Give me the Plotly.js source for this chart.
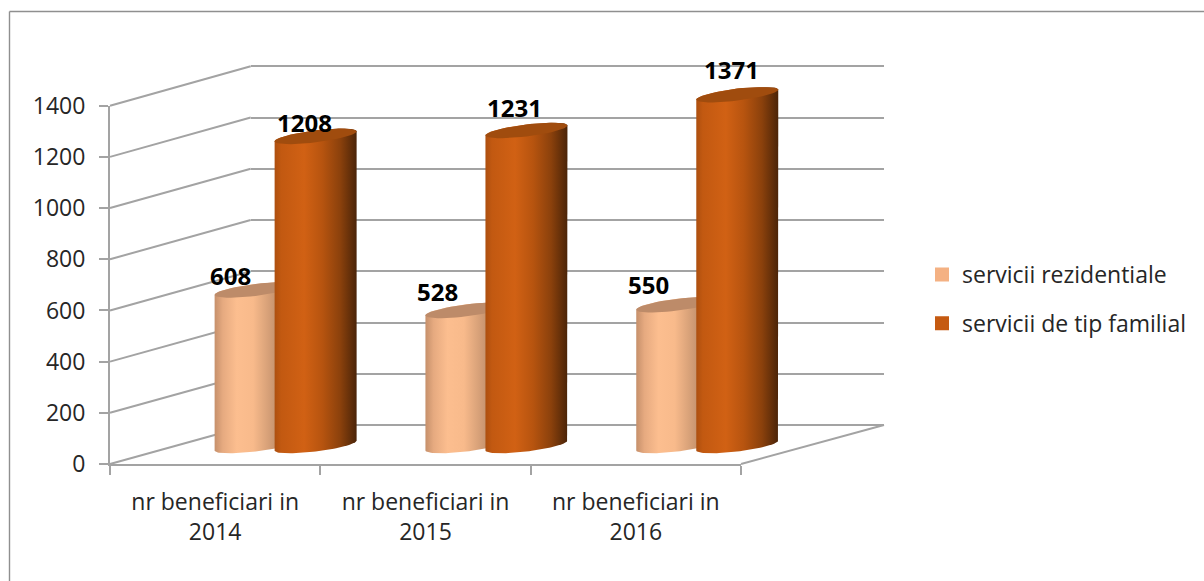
<!DOCTYPE html>
<html><head><meta charset="utf-8">
<script src="https://cdn.plot.ly/plotly-3.0.1.min.js"></script>
<style>html,body{margin:0;padding:0;background:#fff}#chart{width:1204px;height:581px}</style>
</head><body><div id="chart"></div>
<script>
const categories = ['nr beneficiari in<br>2014','nr beneficiari in<br>2015','nr beneficiari in<br>2016'];
const serviciiRezidentiale = [608,528,550];
const serviciiFamilial = [1208,1231,1371];
const seriesNames = ['servicii rezidentiale','servicii de tip familial'];
const valueTicks = [0,200,400,600,800,1000,1200,1400];

const W=1204,H=581;
const hx=p=>p/W, hy=p=>(H-p)/H;
const FONT='"Open Sans", sans-serif', TXT='#262626', GRID='#a3a3a3';
// pixel frame of the three planes
const front={x0:110,x1:741,y0:464,y1:105.7};
const back={x0:250.7,x1:884,y0:425,y1:66.3};
const body={x0:180.2,x1:812.7,y0:445.5,y1:87.2};
const unitX=(body.x1-body.x0)/3, unitY=(body.y0-body.y1)/1400;
const backUnitY=(back.y0-back.y1)/1400;
const radius=41/unitX, slant=5/unitY, minor=6/unitY, shift=30/unitX;
const floorRoom=100; // value units kept under the cylinders so the lower rim is not clipped
const wallRoom=20;   // value units past both ends of the back wall so its end gridlines are drawn

const orangeStops=[[0,'#ad4f0f'],[0.08,'#c25911'],[0.36,'#d16114'],[0.58,'#b7540f'],[0.8,'#8b410c'],[1,'#4b2408']];
const peachStops=[[0,'#c6906b'],[0.1,'#e6aa80'],[0.27,'#fcbe8f'],[0.47,'#f8ba8b'],[0.74,'#c7946f'],[1,'#9c7356']];

function rim(cx,cy,from,to){
  const xs=[],ys=[];
  for(let k=0;k<=48;k++){
    const t=from+(to-from)*k/48;
    xs.push(cx+radius*Math.cos(t)); ys.push(cy+slant*Math.cos(t)+minor*Math.sin(t));
  }
  return [xs,ys];
}
function cylinderTraces(values,dir,stops,capColor){
  const out=[];
  const capX=[],capY=[];
  values.forEach((v,i)=>{
    const cx=i+dir*shift;
    const top=rim(cx,v,Math.PI,0);
    const bottom=rim(cx,0,0,-Math.PI);
    out.push({type:'scatter',mode:'lines',xaxis:'x3',yaxis:'y3',showlegend:false,hoverinfo:'skip',
      x:top[0].concat(bottom[0]),y:top[1].concat(bottom[1]),fill:'toself',line:{width:0},
      fillgradient:{type:'horizontal',colorscale:stops,start:cx-radius,stop:cx+radius}});
    const cap=rim(cx,v,0,2*Math.PI);
    capX.push(...cap[0],null);capY.push(...cap[1],null);
  });
  out.push({type:'scatter',mode:'lines',xaxis:'x3',yaxis:'y3',showlegend:false,hoverinfo:'skip',
    x:capX,y:capY,fill:'toself',fillcolor:capColor,line:{width:0}});
  return out;
}
const idx=categories.map((_,i)=>i);
const traces=[
 {type:'scatter',mode:'none',x:categories,y:categories.map(()=>0),xaxis:'x',yaxis:'y',showlegend:false,hoverinfo:'skip'},
 {type:'scatter',mode:'none',x:valueTicks.map(()=>0.5),y:valueTicks,xaxis:'x2',yaxis:'y2',showlegend:false,hoverinfo:'skip'},
 {type:'bar',name:seriesNames[0],x:idx,y:serviciiRezidentiale,xaxis:'x3',yaxis:'y3',legendgroup:'a',marker:{color:'#F4B183',line:{color:'#F4B183',width:2}}},
 {type:'bar',name:seriesNames[1],x:idx,y:serviciiFamilial,xaxis:'x3',yaxis:'y3',legendgroup:'b',marker:{color:'#C55A11',line:{color:'#C55A11',width:2}}},
 ...cylinderTraces(serviciiRezidentiale,-1,peachStops,'#bd8b69'),
 ...cylinderTraces(serviciiFamilial,1,orangeStops,'#a04c0e')
];
const frontY=v=>front.y0+(front.y1-front.y0)*v/1400;
const backY=v=>back.y0+(back.y1-back.y0)*v/1400;
const line=(x0,y0,x1,y1,color,width)=>({type:'line',xref:'paper',yref:'paper',layer:'below',
  x0:hx(x0),x1:hx(x1),y0:hy(y0),y1:hy(y1),line:{color:color||GRID,width:width||2}});
const shapes=valueTicks.map(v=>line(front.x0,frontY(v),back.x0,backY(v)));
shapes.push(line(front.x1,front.y0,back.x1,back.y0));
shapes.push(line(9.5,11.5,1204,11.5,'#8f8f8f',1.4));
shapes.push(line(9.5,11.5,9.5,581,'#8f8f8f',1.4));

const labelShift0=[[-25,14],[-29,19],[-29,20]];
const labelShift1=[[-11.5,14],[-11.5,23],[-6,25]];
const annotations=[];
[[serviciiRezidentiale,-1,labelShift0],[serviciiFamilial,1,labelShift1]].forEach(([vals,dir,sh])=>{
  vals.forEach((v,i)=>annotations.push({xref:'x3',yref:'y3',x:i+dir*shift,y:v,text:'<b>'+v+'</b>',showarrow:false,
    xshift:sh[i][0],yshift:sh[i][1],font:{family:FONT,size:24,color:'#000'},xanchor:'center',yanchor:'middle'}));
});
const layout={
 width:W,height:H,margin:{l:0,r:0,t:0,b:0,pad:0},paper_bgcolor:'#fff',plot_bgcolor:'rgba(0,0,0,0)',
 font:{family:FONT,size:23,color:TXT},
 barmode:'group',bargap:0.431,bargroupgap:0.33,
 xaxis:{type:'category',categoryorder:'array',categoryarray:categories,range:[-0.5,2.5],tickson:'boundaries',
   domain:[hx(front.x0),hx(front.x1)],anchor:'y',showgrid:false,zeroline:false,showline:true,linecolor:GRID,linewidth:2,
   ticks:'outside',ticklen:9,tickwidth:1.6,tickcolor:GRID,tickfont:{family:FONT,size:23,color:TXT},ticklabelstandoff:16,fixedrange:true},
 yaxis:{range:[0,1400],tickvals:valueTicks,domain:[hy(front.y0),hy(front.y1)],anchor:'x',showgrid:false,zeroline:false,showline:true,linecolor:GRID,linewidth:2,
   ticks:'outside',ticklen:9,tickwidth:1.6,tickcolor:GRID,tickfont:{family:FONT,size:23,color:TXT},ticklabelstandoff:9,fixedrange:true},
 xaxis2:{range:[0,1],domain:[hx(back.x0),hx(back.x1)],anchor:'y2',showgrid:false,showticklabels:false,ticks:'',zeroline:false,showline:false,fixedrange:true},
 yaxis2:{range:[-wallRoom,1400+wallRoom],tickvals:valueTicks,domain:[hy(back.y0+wallRoom*backUnitY),hy(back.y1-wallRoom*backUnitY)],anchor:'x2',showgrid:true,gridcolor:GRID,gridwidth:2,showticklabels:false,ticks:'',zeroline:false,showline:false,fixedrange:true},
 xaxis3:{range:[-0.5,2.5],domain:[hx(body.x0),hx(body.x1)],anchor:'y3',visible:false,fixedrange:true},
 yaxis3:{range:[-floorRoom,1400],domain:[hy(body.y0+floorRoom*unitY),hy(body.y1)],anchor:'x3',visible:false,fixedrange:true},
 legend:{x:hx(922),y:hy(253),xanchor:'left',yanchor:'top',bgcolor:'rgba(0,0,0,0)',traceorder:'grouped',tracegroupgap:16,font:{family:FONT,size:23,color:TXT},itemwidth:30},
 shapes,annotations,showlegend:true
};
Plotly.newPlot('chart',traces,layout,{displayModeBar:false,responsive:false});
</script></body></html>
